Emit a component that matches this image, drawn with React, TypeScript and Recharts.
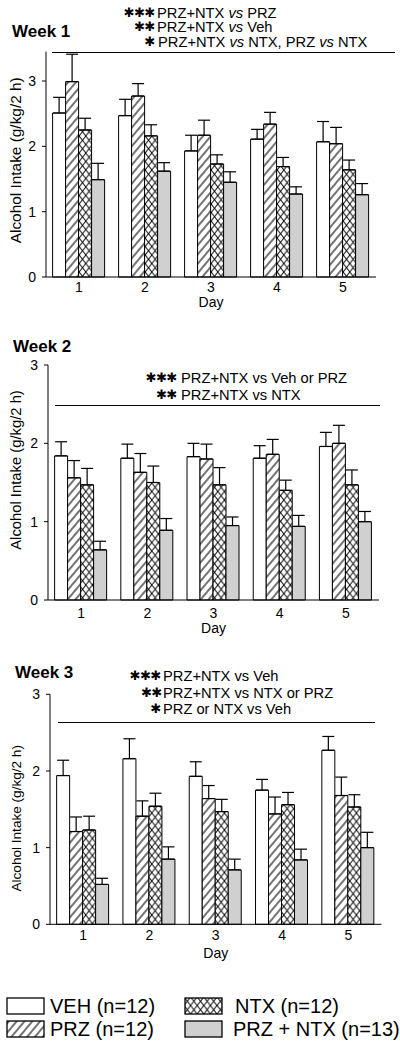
import React from 'react';
import { BarChart, Bar, XAxis, YAxis, ErrorBar, Label } from 'recharts';

const days = ['1', '2', '3', '4', '5'];
const yTicks = [0, 1, 2, 3];

// Week 1 means and upper SEM
const week1Veh = [2.51, 2.47, 1.93, 2.11, 2.07];
const week1VehErr = [0.24, 0.25, 0.24, 0.15, 0.31];
const week1Prz = [2.99, 2.77, 2.17, 2.34, 2.04];
const week1PrzErr = [0.42, 0.19, 0.23, 0.18, 0.25];
const week1Ntx = [2.25, 2.16, 1.73, 1.69, 1.64];
const week1NtxErr = [0.18, 0.17, 0.14, 0.14, 0.15];
const week1Combo = [1.49, 1.62, 1.45, 1.27, 1.26];
const week1ComboErr = [0.25, 0.13, 0.16, 0.11, 0.17];

// Week 2
const week2Veh = [1.84, 1.81, 1.83, 1.81, 1.96];
const week2VehErr = [0.18, 0.18, 0.17, 0.16, 0.18];
const week2Prz = [1.56, 1.63, 1.8, 1.86, 2.0];
const week2PrzErr = [0.22, 0.24, 0.19, 0.19, 0.23];
const week2Ntx = [1.47, 1.5, 1.47, 1.4, 1.47];
const week2NtxErr = [0.21, 0.21, 0.22, 0.13, 0.19];
const week2Combo = [0.64, 0.89, 0.95, 0.94, 1.0];
const week2ComboErr = [0.11, 0.15, 0.11, 0.14, 0.13];

// Week 3
const week3Veh = [1.94, 2.16, 1.93, 1.75, 2.27];
const week3VehErr = [0.2, 0.26, 0.19, 0.14, 0.18];
const week3Prz = [1.21, 1.41, 1.64, 1.44, 1.68];
const week3PrzErr = [0.19, 0.2, 0.17, 0.22, 0.24];
const week3Ntx = [1.23, 1.54, 1.47, 1.56, 1.53];
const week3NtxErr = [0.18, 0.17, 0.16, 0.16, 0.16];
const week3Combo = [0.52, 0.85, 0.71, 0.84, 1.0];
const week3ComboErr = [0.08, 0.16, 0.14, 0.14, 0.2];

const groups = ['VEH (n=12)', 'PRZ (n=12)', 'NTX (n=12)', 'PRZ + NTX (n=13)'];

const FONT = '"Liberation Sans", Arial, sans-serif';
const GRAY = '#d0d0d0';

const buildRows = (
  veh: number[], vehErr: number[],
  prz: number[], przErr: number[],
  ntx: number[], ntxErr: number[],
  combo: number[], comboErr: number[],
) =>
  days.map((day, i) => ({
    day,
    veh: veh[i], vehErr: [0, vehErr[i]],
    prz: prz[i], przErr: [0, przErr[i]],
    ntx: ntx[i], ntxErr: [0, ntxErr[i]],
    combo: combo[i], comboErr: [0, comboErr[i]],
  }));

const week1Rows = buildRows(week1Veh, week1VehErr, week1Prz, week1PrzErr, week1Ntx, week1NtxErr, week1Combo, week1ComboErr);
const week2Rows = buildRows(week2Veh, week2VehErr, week2Prz, week2PrzErr, week2Ntx, week2NtxErr, week2Combo, week2ComboErr);
const week3Rows = buildRows(week3Veh, week3VehErr, week3Prz, week3PrzErr, week3Ntx, week3NtxErr, week3Combo, week3ComboErr);

const Patterns = () => (
  <svg width={0} height={0} style={{ position: 'absolute' }}>
    <defs>
      <pattern id="przHatch" patternUnits="userSpaceOnUse" width={6} height={6} patternTransform="rotate(40)">
        <rect width={6} height={6} fill="#fff" />
        <line x1={3} y1={0} x2={3} y2={6} stroke="#000" strokeWidth={1.1} />
      </pattern>
      <pattern id="ntxCross" patternUnits="userSpaceOnUse" width={6.6} height={8.5}>
        <rect width={6.6} height={8.5} fill="#fff" />
        <path d="M0,0 L6.6,8.5 M6.6,0 L0,8.5" stroke="#000" strokeWidth={1} />
      </pattern>
    </defs>
  </svg>
);

interface PanelProps {
  rows: ReturnType<typeof buildRows>;
  top: number;
  height: number;
  marginTop: number;
  marginRight: number;
  yWidth: number;
  xHeight: number;
  yMax: number;
  yLabelX: number;
  yLabelDy: number;
  yLabelSize: number;
  tickGap: number;
  dayGap: number;
}

const Panel = (p: PanelProps) => (
  <div style={{ position: 'absolute', left: 0, top: p.top }}>
    <BarChart
      width={400}
      height={p.height}
      data={p.rows}
      margin={{ top: p.marginTop, right: p.marginRight, left: 0, bottom: 0 }}
      barCategoryGap="10%"
      barGap={0}
    >
      <XAxis
        dataKey="day"
        tickLine={false}
        tickSize={0}
        tickMargin={p.tickGap}
        height={p.xHeight}
        axisLine={{ stroke: '#000' }}
        tick={{ fill: '#000', fontSize: 14, fontFamily: FONT }}
      >
        <Label
          content={(props: any) => {
            const vb = props.viewBox || {};
            return (
              <text x={vb.x + vb.width / 2} y={vb.y + p.dayGap} textAnchor="middle" fontSize={14} fontFamily={FONT} fill="#000">
                Day
              </text>
            );
          }}
        />
      </XAxis>
      <YAxis
        type="number"
        domain={[0, p.yMax]}
        ticks={yTicks}
        width={p.yWidth}
        tickSize={4}
        tickMargin={6}
        axisLine={{ stroke: '#000' }}
        tickLine={{ stroke: '#000' }}
        tick={{ fill: '#000', fontSize: 14, fontFamily: FONT }}
      >
        <Label
          content={(props: any) => {
            const vb = props.viewBox || {};
            const cy = vb.y + vb.height / 2 + p.yLabelDy;
            return (
              <text
                x={p.yLabelX}
                y={cy}
                transform={`rotate(-90 ${p.yLabelX} ${cy})`}
                textAnchor="middle"
                dominantBaseline="central"
                fontSize={p.yLabelSize}
                fontFamily={FONT}
                fill="#000"
              >
                Alcohol Intake (g/kg/2 h)
              </text>
            );
          }}
        />
      </YAxis>
      <Bar dataKey="veh" name={groups[0]} fill="#fff" stroke="#000" strokeWidth={1} isAnimationActive={false}>
        <ErrorBar dataKey="vehErr" direction="y" width={6} stroke="#000" strokeWidth={1.2} isAnimationActive={false} />
      </Bar>
      <Bar dataKey="prz" name={groups[1]} fill="url(#przHatch)" stroke="#000" strokeWidth={1} isAnimationActive={false}>
        <ErrorBar dataKey="przErr" direction="y" width={6} stroke="#000" strokeWidth={1.2} isAnimationActive={false} />
      </Bar>
      <Bar dataKey="ntx" name={groups[2]} fill="url(#ntxCross)" stroke="#000" strokeWidth={1} isAnimationActive={false}>
        <ErrorBar dataKey="ntxErr" direction="y" width={6} stroke="#000" strokeWidth={1.2} isAnimationActive={false} />
      </Bar>
      <Bar dataKey="combo" name={groups[3]} fill={GRAY} stroke="#000" strokeWidth={1} isAnimationActive={false}>
        <ErrorBar dataKey="comboErr" direction="y" width={6} stroke="#000" strokeWidth={1.2} isAnimationActive={false} />
      </Bar>
    </BarChart>
  </div>
);

const Title = ({ y, left, children }: { y: number; left: number; children: React.ReactNode }) => (
  <div style={{ position: 'absolute', left, top: y - 10, lineHeight: '20px', fontSize: 17, fontWeight: 'bold' }}>{children}</div>
);

// significance stars drawn with a heavy asterisk at text size so rows don't collide
const Note = ({ y, right, left, stars, children }: { y: number; right: number; left: number; stars: number; children: React.ReactNode }) => (
  <>
    <div
      style={{
        position: 'absolute',
        left: 0,
        width: right,
        top: y - 8,
        lineHeight: '16px',
        fontSize: 13,
        fontFamily: '"DejaVu Sans", sans-serif',
        letterSpacing: -0.5,
        textAlign: 'right',
        whiteSpace: 'nowrap',
      }}
    >
      {'✱'.repeat(stars)}
    </div>
    <div style={{ position: 'absolute', left, top: y - 8, lineHeight: '16px', fontSize: 14.7, whiteSpace: 'nowrap' }}>{children}</div>
  </>
);

const Rule = ({ y, x1, x2 }: { y: number; x1: number; x2: number }) => (
  <div style={{ position: 'absolute', left: x1, width: x2 - x1, top: y, height: 0, borderTop: '1px solid #000' }} />
);

const fills = ['#fff', 'url(#przHatch)', 'url(#ntxCross)', GRAY];

const LegendItem = ({ index, left, top, textLeft }: { index: number; left: number; top: number; textLeft: number }) => (
  <>
    <svg style={{ position: 'absolute', left, top }} width={40} height={18}>
      <rect x={1} y={1} width={37} height={16} fill={fills[index]} stroke="#000" strokeWidth={1.3} />
    </svg>
    <div style={{ position: 'absolute', left: textLeft, top: top - 2, lineHeight: '22px', fontSize: 20, whiteSpace: 'nowrap' }}>
      {groups[index]}
    </div>
  </>
);

export default function App() {
  return (
    <div
      style={{
        position: 'absolute',
        left: 0,
        top: 0,
        width: 400,
        height: 1048,
        overflow: 'hidden',
        background: '#fff',
        fontFamily: FONT,
        color: '#000',
      }}
    >
      <Patterns />

      <Panel rows={week1Rows} top={0} height={312} marginTop={51.6} marginRight={24} yWidth={46} xHeight={35}
        yMax={3.45} yLabelX={15.5} yLabelDy={-4} yLabelSize={15.4} tickGap={4.7} dayGap={30} />
      <Title y={32} left={12}>Week 1</Title>
      <Note y={12.7} right={155} left={157} stars={3}>PRZ+NTX <i>vs</i> PRZ</Note>
      <Note y={26.7} right={155} left={157} stars={2}>PRZ+NTX <i>vs</i> Veh</Note>
      <Note y={41.7} right={155} left={158} stars={1}>PRZ+NTX <i>vs</i> NTX, PRZ <i>vs</i> NTX</Note>
      <Rule y={52} x1={52} x2={395} />

      <Panel rows={week2Rows} top={330} height={306} marginTop={35} marginRight={21} yWidth={48} xHeight={36}
        yMax={3} yLabelX={16} yLabelDy={-12.5} yLabelSize={14.8} tickGap={8.3} dayGap={33} />
      <Title y={347} left={13}>Week 2</Title>
      <Note y={377.7} right={177} left={181} stars={3}>PRZ+NTX vs Veh or PRZ</Note>
      <Note y={395} right={177} left={181} stars={2}>PRZ+NTX vs NTX</Note>
      <Rule y={405} x1={55} x2={380} />

      <Panel rows={week3Rows} top={660} height={302.3} marginTop={34.3} marginRight={18.5} yWidth={50} xHeight={38}
        yMax={3} yLabelX={16.7} yLabelDy={9} yLabelSize={13.6} tickGap={5.7} dayGap={34} />
      <Title y={673} left={15}>Week 3</Title>
      <Note y={676} right={161} left={163} stars={3}>PRZ+NTX vs Veh</Note>
      <Note y={693.3} right={162} left={163} stars={2}>PRZ+NTX vs NTX or PRZ</Note>
      <Note y={709.3} right={161} left={163} stars={1}>PRZ or NTX vs Veh</Note>
      <Rule y={722} x1={58} x2={375} />

      <LegendItem index={0} left={6} top={997} textLeft={50} />
      <LegendItem index={1} left={6} top={1020} textLeft={50} />
      <LegendItem index={2} left={184} top={997} textLeft={235} />
      <LegendItem index={3} left={184} top={1020} textLeft={233} />
    </div>
  );
}
